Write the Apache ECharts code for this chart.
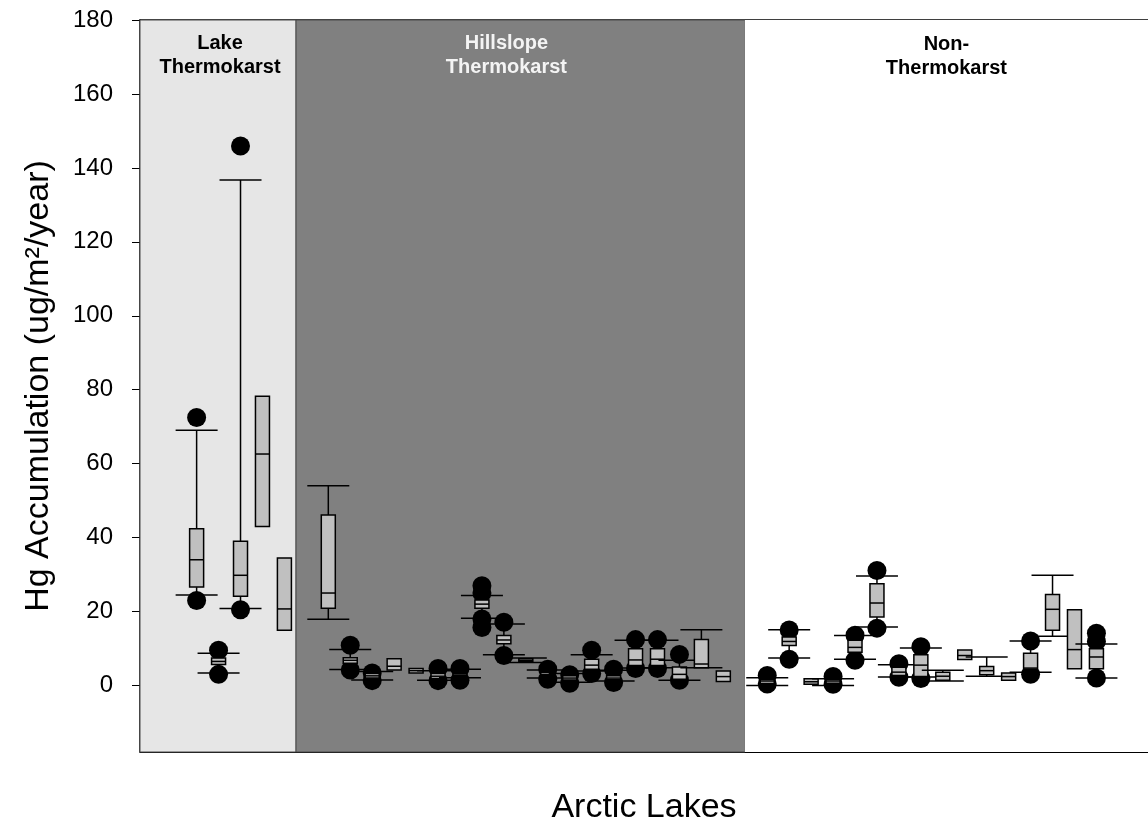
<!DOCTYPE html>
<html>
<head>
<meta charset="utf-8">
<title>Hg Accumulation in Arctic Lakes</title>
<script src="https://cdn.jsdelivr.net/npm/echarts@6/dist/echarts.min.js"></script>
<style>
  html, body { margin: 0; padding: 0; background: #ffffff; overflow: hidden; }
  #chart { width: 1148px; height: 825px; }
</style>
</head>
<body>
<div id="chart"></div>
<script>
// Lake groups along the x axis (slot units) and their labels
const groupNames = ['Lake\nThermokarst', 'Hillslope\nThermokarst', 'Non-\nThermokarst'];
const groupStart = [-0.58, 6.53, 26.98];
const groupEnd = [6.53, 26.98, 45.35];

// One box per lake: slot position and box statistics (null = no whisker drawn)
const slot = [2, 3, 4, 5, 6,
  8, 9, 10, 11, 12, 13, 14, 15, 16, 17, 18, 19, 20, 21, 22, 23, 24, 25, 26,
  28, 29, 30, 31, 32, 33, 34, 35, 36, 37, 38, 39, 40, 41, 42, 43];
const whiskerLow = [24.5, 3.4, 20.8, null, null,
  17.9, 4.3, 1.5, null, null, 1.4, 2.1, 18.2, 8.3, 6.2, 2.0, 0.9, 3.9, 1.2, 4.7, 4.8, 1.4, 4.8, null,
  0.0, 7.4, null, 0.0, 7.1, 15.8, 2.3, 2.3, 1.2, null, 2.5, null, 3.6, 13.3, null, 2.0];
const q1 = [26.6, 5.7, 24.1, 43.0, 14.9,
  20.9, 6.0, 2.0, 4.2, 3.4, 1.9, 2.4, 20.9, 11.3, 6.4, 2.6, 1.5, 4.4, 1.6, 5.4, 5.4, 1.7, 4.8, 1.1,
  0.5, 10.8, 0.3, 0.6, 9.0, 18.5, 2.7, 2.4, 1.4, 7.0, 2.9, 1.4, 4.4, 14.9, 4.5, 4.5];
const median = [34.0, 6.5, 29.8, 62.6, 20.7,
  25.0, 6.8, 2.6, 5.2, 4.0, 2.5, 2.7, 22.0, 12.3, 6.8, 3.0, 2.0, 5.5, 2.0, 6.9, 7.1, 3.0, 5.8, 2.4,
  1.2, 11.9, 1.0, 1.2, 10.3, 22.3, 3.6, 5.5, 2.5, 8.1, 4.0, 2.4, 4.7, 20.6, 9.7, 7.7];
const q3 = [42.4, 7.4, 39.0, 78.2, 34.5,
  46.1, 7.5, 3.2, 7.2, 4.6, 3.2, 3.1, 23.1, 13.5, 7.2, 3.6, 2.6, 7.1, 2.6, 9.9, 9.9, 5.0, 12.4, 3.9,
  1.6, 13.1, 1.8, 1.6, 12.2, 27.5, 4.9, 8.3, 3.6, 9.6, 5.1, 3.4, 8.7, 24.6, 20.5, 9.9];
const whiskerHigh = [69.0, 8.7, 136.7, null, null,
  54.0, 9.7, 3.8, null, null, 4.0, 4.4, 24.3, 16.6, 7.4, 4.2, 3.2, 8.3, 4.1, 12.2, 12.2, 6.8, 15.1, null,
  2.1, 15.1, null, 1.8, 13.5, 29.6, 5.6, 10.1, 4.1, null, 7.7, null, 12.0, 29.8, null, 11.2];

// Outlying points: slot and value
const outlierSlot = [2, 2, 3, 3, 4, 4,
  9, 9, 10, 10, 13, 13, 14, 14, 15, 15, 15, 15, 16, 16, 18, 18, 19, 19, 20, 20, 21, 21, 22, 22, 23, 23, 24, 24,
  28, 28, 29, 29, 31, 31, 32, 32, 33, 33, 34, 34, 35, 35, 40, 40, 43, 43, 43];
const outlierValue = [72.5, 23.0, 9.5, 3.0, 145.9, 20.5,
  10.9, 4.2, 3.4, 1.3, 4.6, 1.3, 4.6, 1.4, 27.0, 25.0, 18.0, 15.7, 17.1, 8.1, 4.4, 1.7, 2.9, 0.6, 9.5, 3.2, 4.4, 0.8, 12.4, 4.6, 12.4, 4.6, 8.4, 1.4,
  2.7, 0.4, 15.0, 7.1, 2.4, 0.3, 13.6, 6.8, 31.1, 15.5, 5.9, 2.2, 10.5, 1.9, 12.0, 3.0, 14.1, 11.9, 2.0];

// Y axis ticks
const yTicks = [0, 20, 40, 60, 80, 100, 120, 140, 160, 180];

const FONT = "'Liberation Sans', Arial, Helvetica, sans-serif";
const X_MIN = groupStart[0];
const X_MAX = groupEnd[groupEnd.length - 1];

const chart = echarts.init(document.getElementById('chart'));

const boxData = slot.map((s, i) => [s, whiskerLow[i], q1[i], median[i], q3[i], whiskerHigh[i]]);
const pointData = outlierSlot.map((s, i) => [s, outlierValue[i]]);

const groupFill = ['#e6e6e6', '#808080', '#ffffff'];
const groupText = ['#000000', '#f4f4f4', '#000000'];
const groupBorder = [1, 1, 0];
const groupOffset = [[2, 0], [-14, 0], [0, 0]];

const markAreaData = groupNames.map((name, i) => [
  {
    name: name,
    xAxis: groupStart[i],
    itemStyle: { color: groupFill[i], borderColor: '#4a4a4a', borderWidth: groupBorder[i] },
    label: { color: groupText[i], offset: groupOffset[i] }
  },
  { xAxis: groupEnd[i] }
]);

const BOX_HALF = 7;     // px
const CAP_HALF = 21;    // px
const LINE = { stroke: '#000', lineWidth: 1.5 };

function renderBox(params, api) {
  const i = params.dataIndex;
  const x = slot[i];
  const cx = api.coord([x, 0])[0];
  const y = v => api.coord([x, v])[1];
  const children = [];
  const yQ1 = y(q1[i]);
  const yQ3 = y(q3[i]);
  if (whiskerHigh[i] !== null) {
    const yh = y(whiskerHigh[i]);
    children.push({ type: 'line', shape: { x1: cx, y1: yQ3, x2: cx, y2: yh }, style: LINE });
    children.push({ type: 'line', shape: { x1: cx - CAP_HALF, y1: yh, x2: cx + CAP_HALF, y2: yh }, style: LINE });
  }
  if (whiskerLow[i] !== null) {
    const yl = y(whiskerLow[i]);
    children.push({ type: 'line', shape: { x1: cx, y1: yQ1, x2: cx, y2: yl }, style: LINE });
    children.push({ type: 'line', shape: { x1: cx - CAP_HALF, y1: yl, x2: cx + CAP_HALF, y2: yl }, style: LINE });
  }
  children.push({
    type: 'rect',
    shape: { x: cx - BOX_HALF, y: yQ3, width: BOX_HALF * 2, height: Math.max(yQ1 - yQ3, 1) },
    style: { fill: '#c0c0c0', stroke: '#000', lineWidth: 1.5 }
  });
  const ym = y(median[i]);
  children.push({ type: 'line', shape: { x1: cx - BOX_HALF, y1: ym, x2: cx + BOX_HALF, y2: ym }, style: LINE });
  return { type: 'group', children: children };
}

const option = {
  backgroundColor: '#ffffff',
  animation: false,
  grid: { left: 140, right: 0, top: 20, bottom: 73, containLabel: false, outerBoundsMode: 'none' },
  xAxis: [
    {
      type: 'value', min: X_MIN, max: X_MAX, position: 'bottom',
      axisLine: { show: true, onZero: false, lineStyle: { color: '#000', width: 1 } },
      axisTick: { show: false }, axisLabel: { show: false }, splitLine: { show: false },
      name: 'Arctic Lakes', nameLocation: 'middle', nameGap: 39,
      nameTextStyle: { fontSize: 34, color: '#000', fontFamily: FONT }
    },
    {
      type: 'value', min: X_MIN, max: X_MAX, position: 'top',
      axisLine: { show: true, onZero: false, lineStyle: { color: '#000', width: 1.5 } },
      axisTick: { show: false }, axisLabel: { show: false }, splitLine: { show: false }
    }
  ],
  yAxis: {
    type: 'value', min: -18, max: 180,
    axisLine: { show: true, onZero: false, lineStyle: { color: '#000', width: 1.5 } },
    axisTick: { show: true, customValues: yTicks, length: 8, lineStyle: { color: '#000', width: 1 } },
    axisLabel: { customValues: yTicks, fontSize: 24, color: '#000', margin: 27, fontFamily: FONT },
    splitLine: { show: false },
    name: 'Hg Accumulation (ug/m²/year)', nameLocation: 'middle', nameGap: 84,
    nameTextStyle: { fontSize: 34, color: '#000', fontFamily: FONT }
  },
  series: [
    {
      name: 'groups', type: 'scatter', data: [], z: 0, silent: true,
      markArea: {
        silent: true,
        label: {
          show: true, position: 'insideTop', distance: 12,
          fontSize: 20, fontWeight: 'bold', lineHeight: 24, fontFamily: FONT, align: 'center'
        },
        data: markAreaData
      }
    },
    {
      name: 'outliers', type: 'scatter', data: pointData, z: 2,
      symbol: 'circle', symbolSize: 19,
      itemStyle: { color: '#000', opacity: 1 }
    },
    {
      name: 'boxes', type: 'custom', data: boxData, z: 3,
      renderItem: renderBox
    }
  ]
};

chart.setOption(option);
</script>
</body>
</html>
